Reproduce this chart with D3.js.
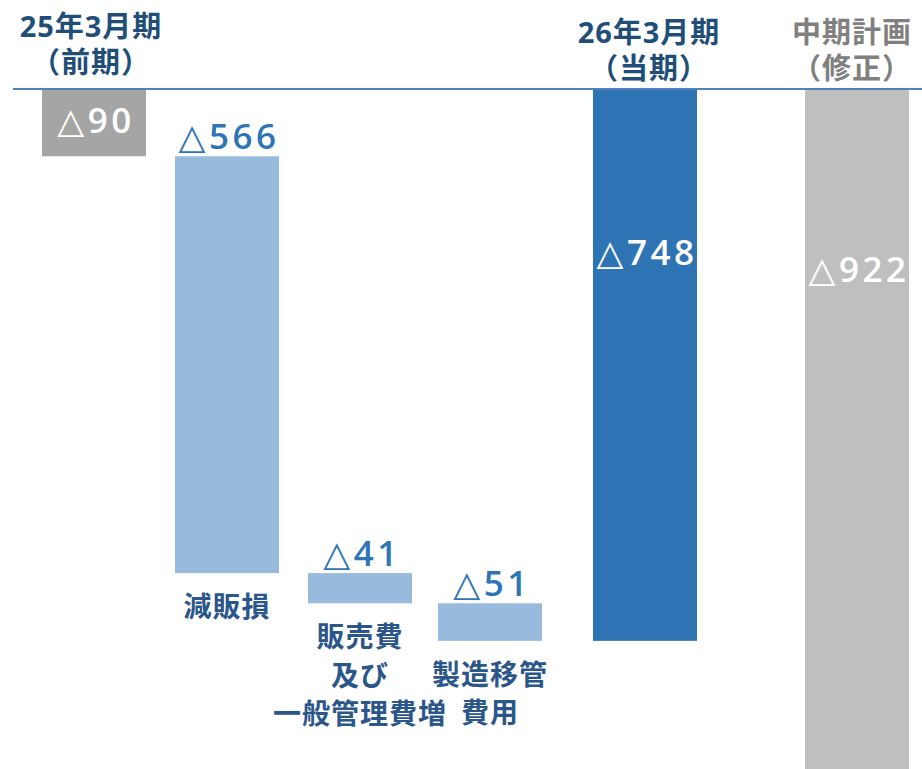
<!DOCTYPE html>
<html>
<head>
<meta charset="utf-8">
<script src="https://cdn.jsdelivr.net/npm/d3@7"></script>
<style>
  body { margin: 0; background: #fff; }
  svg { display: block; }
  .head { font-family: "Open Sans", "Noto Sans CJK JP", sans-serif; font-weight: 700; font-size: 29px; letter-spacing: 1px; }
  .cat { font-family: "Noto Sans CJK JP", sans-serif; font-weight: 700; font-size: 28px; letter-spacing: 1px; fill: #2b5689; }
  .val { font-family: "Open Sans", sans-serif; font-weight: 600; font-size: 35px; letter-spacing: 3.5px; }
  .tri { font-family: "DejaVu Sans", sans-serif; font-weight: 400; }
</style>
</head>
<body>
<div id="chart"></div>
<script>
// 営業損益の増減（単位：百万円）
const categories = ["25年3月期", "減販損", "販売費及び一般管理費増", "製造移管費用", "26年3月期", "中期計画"];
const values = [90, 566, 41, 51, 748, 922];
const kinds = ["prev", "delta", "delta", "delta", "current", "plan"];
const headerLines = [["25年3月期", "（前期）"], null, null, null, ["26年3月期", "（当期）"], ["中期計画", "（修正）"]];
const catLines = [null, ["減販損"], ["販売費", "及び", "一般管理費増"], ["製造移管", "費用"], null, null];

const width = 922, height = 769;

const fillColor = { prev: "#a5a5a5", delta: "#98badc", current: "#2e74b5", plan: "#bfbfbf" };
const headColor = { prev: "#1f4e79", current: "#1f4e79", plan: "#808080" };

// 滝グラフの開始・終了位置
let running = 0;
const bars = categories.map((c, i) => {
    let start, end;
    if (kinds[i] === "delta") {
        start = running;
        end = running + values[i];
    } else {
        start = 0;
        end = values[i];
    }
    running = end;
    return { name: c, value: values[i], kind: kinds[i], start, end, head: headerLines[i], lines: catLines[i] };
});

const svg = d3.select("#chart")
    .append("svg")
    .attr("width", width)
    .attr("height", height);

// 棒の中心位置（元の図の並びに合わせる）
const x = d3.scaleOrdinal()
    .domain(categories)
    .range([94, 227, 360, 490, 645, 857]);
const barW = 104;

const y = d3.scaleLinear()
    .domain([0, 922])
    .range([90, 769]);

svg.selectAll("rect.bar")
    .data(bars)
    .join("rect")
    .attr("class", "bar")
    .attr("x", d => x(d.name) - barW / 2)
    .attr("width", barW)
    .attr("y", d => y(d.start))
    .attr("height", d => y(d.end) - y(d.start))
    .attr("fill", d => fillColor[d.kind]);

// 基準線
svg.append("line")
    .attr("x1", 13)
    .attr("x2", width)
    .attr("y1", y(0) - 1)
    .attr("y2", y(0) - 1)
    .attr("stroke", "#4f81bd")
    .attr("stroke-width", 2);

// 値ラベル
const insideDy = { prev: 43, current: 175, plan: 192 };
const vals = svg.selectAll("text.val")
    .data(bars)
    .join("text")
    .attr("class", "val")
    .attr("text-anchor", "middle")
    .attr("x", d => x(d.name) + 2)
    .attr("y", d => d.kind === "delta" ? y(d.start) - 7 : y(0) + insideDy[d.kind])
    .attr("fill", d => d.kind === "delta" ? "#2e75b6" : "#fff");
vals.append("tspan").attr("class", "tri").text("△");
vals.append("tspan").text(d => d.value);

// 見出し（1行ずつ別のtextにする）
const headTop = { prev: 37, current: 43, plan: 43 };
const headShift = { prev: -3, current: 4, plan: -5 };
bars.filter(d => d.head).forEach(d => {
    d.head.forEach((t, i) => {
        svg.append("text")
            .attr("class", "head")
            .attr("text-anchor", "middle")
            .attr("fill", headColor[d.kind])
            .attr("x", x(d.name) + headShift[d.kind])
            .attr("y", headTop[d.kind] + i * 36)
            .text(t);
    });
});

// 項目ラベル
bars.filter(d => d.lines).forEach(d => {
    d.lines.forEach((t, i) => {
        svg.append("text")
            .attr("class", "cat")
            .attr("text-anchor", "middle")
            .attr("x", x(d.name))
            .attr("y", y(d.end) + 44 + i * 38.5)
            .text(t);
    });
});
</script>
</body>
</html>
